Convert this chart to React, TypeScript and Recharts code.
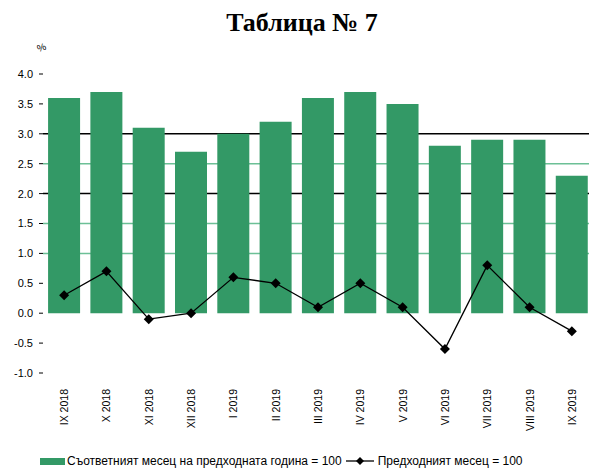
import { ComposedChart, Bar, Line, XAxis, YAxis, CartesianGrid, Legend } from 'recharts'

const months = ['IX 2018', 'X 2018', 'XI 2018', 'XII 2018', 'I 2019', 'II 2019', 'III 2019', 'IV 2019', 'V 2019', 'VI 2019', 'VII 2019', 'VIII 2019', 'IX 2019']
const yearOnYear = [3.6, 3.7, 3.1, 2.7, 3.0, 3.2, 3.6, 3.7, 3.5, 2.8, 2.9, 2.9, 2.3]
const monthOnMonth = [0.3, 0.7, -0.1, 0.0, 0.6, 0.5, 0.1, 0.5, 0.1, -0.6, 0.8, 0.1, -0.3]
const yTicks = [-1, -0.5, 0, 0.5, 1, 1.5, 2, 2.5, 3, 3.5, 4]

const barName = 'Съответният месец на предходната година = 100'
const lineName = 'Предходният месец = 100'

const data = months.map((m, i) => ({ month: m, yoy: yearOnYear[i], mom: monthOnMonth[i] }))

const GREEN = '#339966'
const FONT = '"Liberation Sans", Arial, sans-serif'

function Diamond(props: any) {
  const { cx, cy } = props
  if (cx == null || cy == null) return null
  const s = 5
  return <path d={`M${cx},${cy - s}L${cx + s},${cy}L${cx},${cy + s}L${cx - s},${cy}Z`} fill="#000" />
}

function MonthTick(props: any) {
  const { x, y, payload } = props
  return (
    <text x={x} y={y + 8} transform={`rotate(-90 ${x} ${y + 8})`} textAnchor="end" dominantBaseline="central" fontSize={10.5} fontFamily={FONT} fill="#000">
      {payload.value}
    </text>
  )
}

function LegendBox() {
  return (
    <div style={{ display: 'flex', alignItems: 'center', fontFamily: FONT, fontSize: 12, color: '#000' }}>
      <span style={{ display: 'inline-block', width: 25, height: 7, background: GREEN, marginRight: 2 }} />
      <span>{barName}</span>
      <svg width={30} height={10} style={{ marginLeft: 4, marginRight: 2 }}>
        <line x1={0} y1={5} x2={28} y2={5} stroke="#000" strokeWidth={1.3} />
        <path d="M14,1L18,5L14,9L10,5Z" fill="#000" />
      </svg>
      <span>{lineName}</span>
    </div>
  )
}

export default function App() {
  return (
    <div style={{ position: 'absolute', left: 0, top: 0, width: 589, height: 473, overflow: 'hidden', background: '#fff' }}>
      <div style={{ position: 'absolute', top: 8, left: 0, width: 604, textAlign: 'center', lineHeight: '30px', fontFamily: '"Liberation Serif", "Times New Roman", serif', fontWeight: 'bold', fontSize: 26 }}>
        Таблица № 7
      </div>
      <div style={{ position: 'absolute', left: 37, top: 42, fontFamily: FONT, fontSize: 10, transform: 'rotate(-20deg)' }}>%</div>
      <ComposedChart width={600} height={473} data={data} margin={{ top: 74, right: 7, bottom: 0, left: 0 }} barCategoryGap="12%">
        <CartesianGrid vertical={false} horizontalValues={[1, 1.5, 2.5]} stroke="#6cc096" strokeWidth={1.5} />
        <CartesianGrid vertical={false} horizontalValues={[2, 3]} stroke="#000" strokeWidth={1.5} />
        <XAxis dataKey="month" axisLine={false} tickLine={false} tick={<MonthTick />} height={86} interval={0} />
        <YAxis
          domain={[-1, 4]}
          ticks={yTicks}
          axisLine={false}
          tickLine={{ stroke: '#000' }}
          tickSize={4}
          width={43}
          tick={{ fontSize: 11, fontFamily: FONT, fill: '#000', dx: -4 }}
          tickFormatter={(v: number) => v.toFixed(1)}
          interval={0}
        />
        <Bar dataKey="yoy" name={barName} fill={GREEN} isAnimationActive={false} />
        <Line dataKey="mom" name={lineName} stroke="#000" strokeWidth={1.3} dot={<Diamond />} activeDot={false} isAnimationActive={false} />
        <Legend content={<LegendBox />} wrapperStyle={{ left: 40, top: 454, width: 560 }} />
      </ComposedChart>
    </div>
  )
}
